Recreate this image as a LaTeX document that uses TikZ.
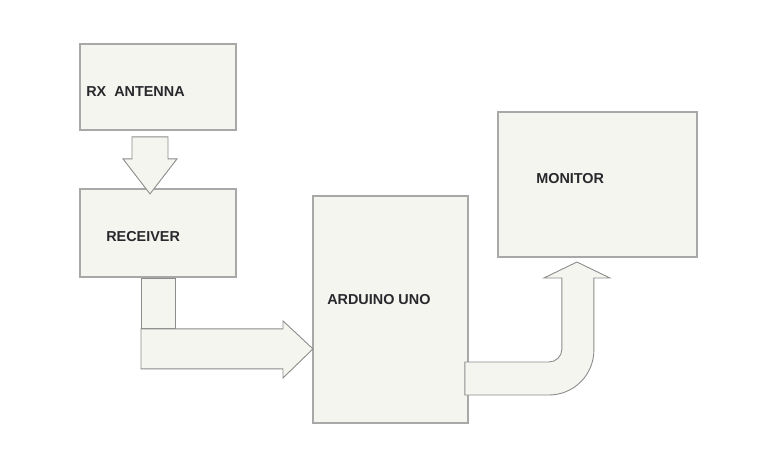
\documentclass[tikz,border=0pt]{standalone}
\usepackage{fontspec}
\setmainfont{Liberation Sans}
\usepackage{tikz}
\usetikzlibrary{positioning}
\usetikzlibrary{calc}
\definecolor{boxfill}{RGB}{245,245,240}
\definecolor{boxline}{RGB}{168,168,168}
\definecolor{arrline}{RGB}{140,140,140}
\definecolor{txtdark}{RGB}{40,40,45}

\begin{document}
\begin{tikzpicture}[x=1pt, y=-1pt,
    box/.style={draw=boxline, fill=boxfill, line width=1.8pt, rectangle, inner sep=0pt},
    lbl/.style={anchor=west, inner sep=0pt, text=txtdark, font=\fontsize{14.4}{17}\selectfont\bfseries},
    blockarrow/.style={draw=arrline, fill=boxfill, line width=0.9pt, line join=miter}]
    \useasboundingbox (0,0) rectangle (766,453);
    \node[box, minimum width=156pt, minimum height=86pt] (rx) at (158,87) {};
    \node[box, minimum width=156pt, minimum height=88pt] (rcv) at (158,233) {};
    \node[box, minimum width=155pt, minimum height=227pt] (ard) at (390.5,309.5) {};
    \node[box, minimum width=199pt, minimum height=145pt] (mon) at (597.5,184.5) {};
    \node[lbl] (rxtext) at ($(rx.west)+(7,5)$) {RX~~ANTENNA};
    \node[lbl] (rcvtext) at ($(rcv.west)+(27,4)$) {RECEIVER};
    \node[lbl] (ardtext) at ($(ard.west)+(15,-9.5)$) {ARDUINO UNO};
    \node[lbl] (montext) at ($(mon.west)+(39,-5.5)$) {MONITOR};
    % antenna to receiver
    \draw[blockarrow] ($(rx.south)+(-26,6)$) -- ++(36,0) -- ++(0,22) -- ++(9,0) -- ++(-27,35) -- ++(-27,-35) -- ++(9,0) -- cycle;
    % receiver to arduino
    \draw[blockarrow] ($(rcv.south)+(-17,1)$) rectangle ++(34,50);
    \draw[blockarrow] ($(rcv.south)+(-17,51)$) -- ++(142,0) -- ++(0,-8) -- ++(30,28) -- ++(-30,29) -- ++(0,-9) -- ++(-142,0) -- cycle;
    % arduino to monitor
    \draw[blockarrow] ($(ard.east)+(-4,52.5)$) -- ++(84,0)
        .. controls +(7.2,0) and +(0,7.2) .. ++(13,-13) -- ++(0,-71) -- ++(-18,0) -- ++(33,-16) -- ++(33,16) -- ++(-16,0) -- ++(0,72)
        .. controls +(0,24.9) and +(24.9,0) .. ++(-45,45) -- ++(-84,0) -- cycle;
\end{tikzpicture}
\end{document}
